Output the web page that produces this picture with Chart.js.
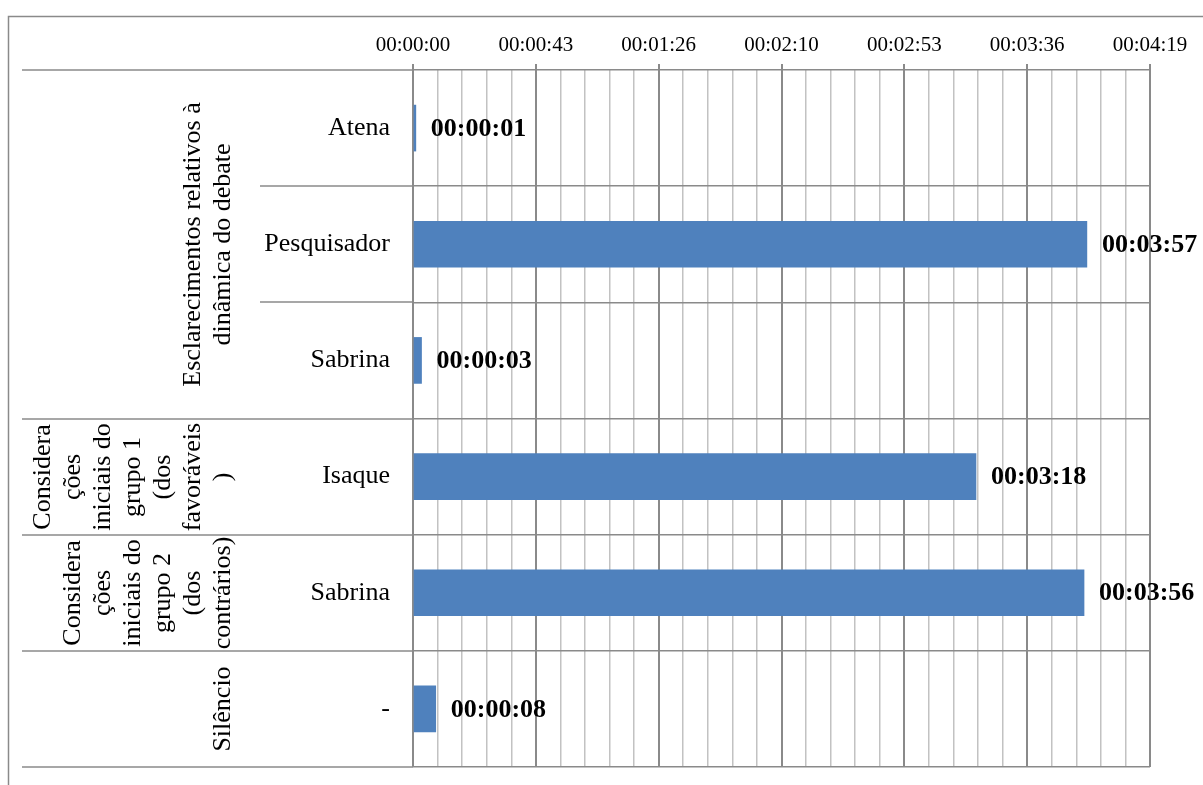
<!DOCTYPE html>
<html lang="pt">
<head>
<meta charset="utf-8">
<title>Tempo de fala por participante</title>
<script src="https://cdn.jsdelivr.net/npm/chart.js@4.4.1/dist/chart.umd.min.js"></script>
<style>
  html, body { margin: 0; padding: 0; background: #ffffff; }
  #chart { display: block; }
</style>
</head>
<body>
<canvas id="chart" width="1203" height="785"></canvas>
<script>
// Participants, one bar each (top to bottom)
const categories = ['Atena', 'Pesquisador', 'Sabrina', 'Isaque', 'Sabrina', '-'];
// Speaking time of each participant, in seconds
const durations = [1, 237, 3, 198, 236, 8];
// Outer category level: how many participant rows each group spans
const groupSizes = [3, 1, 1, 1];
const groupNames = [
  ['Esclarecimentos relativos à', 'dinâmica do debate'],
  ['Considera', 'ções', 'iniciais do', 'grupo 1', '(dos', 'favoráveis', ')'],
  ['Considera', 'ções', 'iniciais do', 'grupo 2', '(dos', 'contrários)'],
  ['Silêncio']
];
// Time axis: labels for the major ticks (a step of 43.2 s)
const tickLabels = ['00:00:00', '00:00:43', '00:01:26', '00:02:10', '00:02:53', '00:03:36', '00:04:19'];
const axisMax = 259.2;
const majorStep = 43.2;
const minorStep = 8.64;

const SERIF = '"Liberation Serif", "Times New Roman", serif';
const LINE = '#8a8a8a';
const MINOR = '#c2c2c2';

function hms(sec) {
  const s = Math.round(sec);
  return [Math.floor(s / 3600), Math.floor((s % 3600) / 60), s % 60]
    .map(n => String(n).padStart(2, '0')).join(':');
}

// Bold duration written just past the end of each bar
const valueLabels = {
  id: 'valueLabels',
  afterDatasetsDraw(chart) {
    const ctx = chart.ctx;
    const meta = chart.getDatasetMeta(0);
    ctx.save();
    ctx.font = 'bold 26px ' + SERIF;
    ctx.fillStyle = '#000000';
    ctx.textAlign = 'left';
    ctx.textBaseline = 'middle';
    meta.data.forEach((bar, i) => {
      ctx.fillText(hms(durations[i]), bar.x + 15, bar.y + 1);
    });
    ctx.restore();
  }
};

// Second category level on the left, plus the frame around the chart
const groupAxis = {
  id: 'groupAxis',
  afterDraw(chart) {
    const ctx = chart.ctx;
    const y = chart.scales.y;
    const left = chart.chartArea.left;
    const edge = i => Math.round(y.getPixelForValue(i - 0.5));
    const innerX = 260, outerX = 22;

    ctx.save();
    ctx.strokeStyle = LINE;
    ctx.lineWidth = 1.5;

    // row separators inside the label column
    const groupStarts = [];
    let acc = 0;
    groupSizes.forEach(n => { groupStarts.push(acc); acc += n; });
    for (let i = 0; i <= categories.length; i++) {
      const isGroupEdge = i === categories.length || groupStarts.includes(i);
      const yy = edge(i);
      ctx.beginPath();
      ctx.moveTo(isGroupEdge ? outerX : innerX, yy);
      ctx.lineTo(left, yy);
      ctx.stroke();
    }

    // rotated group names, last line nearest the participant names
    ctx.font = '26px ' + SERIF;
    ctx.fillStyle = '#000000';
    ctx.textAlign = 'center';
    ctx.textBaseline = 'alphabetic';
    const lastBaseline = 230, gap = 30;
    groupNames.forEach((lines, g) => {
      const top = edge(groupStarts[g]);
      const bottom = edge(groupStarts[g] + groupSizes[g]);
      const cy = (top + bottom) / 2;
      lines.forEach((txt, k) => {
        const bx = lastBaseline - (lines.length - 1 - k) * gap;
        ctx.save();
        ctx.translate(bx, cy);
        ctx.rotate(-Math.PI / 2);
        ctx.fillText(txt, 0, 0);
        ctx.restore();
      });
    });

    // outer frame
    ctx.strokeStyle = '#8a8a8a';
    ctx.lineWidth = 1.5;
    ctx.strokeRect(8.5, 16.5, 1400, 900);
    ctx.restore();
  }
};

new Chart(document.getElementById('chart'), {
  type: 'bar',
  data: {
    labels: categories,
    datasets: [{
      data: durations,
      backgroundColor: '#4f81bd',
      borderWidth: 0,
      barThickness: 46
    }]
  },
  options: {
    indexAxis: 'y',
    responsive: false,
    animation: false,
    layout: { padding: { left: 0, right: 53, top: 16, bottom: 18 } },
    plugins: {
      legend: { display: false },
      tooltip: { enabled: false }
    },
    scales: {
      x: {
        position: 'top',
        min: 0,
        max: axisMax,
        ticks: {
          stepSize: majorStep,
          maxTicksLimit: 8,
          autoSkip: false,
          maxRotation: 0,
          padding: 6,
          color: '#000000',
          font: { family: SERIF, size: 21 },
          callback: (v, i) => tickLabels[i]
        },
        grid: { color: LINE, lineWidth: 2, tickLength: 6, drawTicks: true },
        border: { display: false },
        afterFit: s => { s.height = 54; }
      },
      xMinor: {
        position: 'bottom',
        min: 0,
        max: axisMax,
        ticks: { display: false, stepSize: minorStep, maxTicksLimit: 40 },
        grid: {
          drawTicks: false,
          lineWidth: 1.5,
          color: c => (c.index % 5 === 0 ? 'rgba(0,0,0,0)' : MINOR)
        },
        border: { display: false },
        afterFit: s => { s.height = 0; }
      },
      y: {
        offset: true,
        ticks: {
          padding: 23,
          color: '#000000',
          font: { family: SERIF, size: 26 }
        },
        grid: { offset: true, color: LINE, lineWidth: 1.5, drawTicks: false },
        border: { display: false },
        afterFit: s => {
          s.width = 413;
          s.paddingTop = 0;
          s.paddingBottom = 0;
        }
      }
    }
  },
  plugins: [valueLabels, groupAxis]
});
</script>
</body>
</html>
